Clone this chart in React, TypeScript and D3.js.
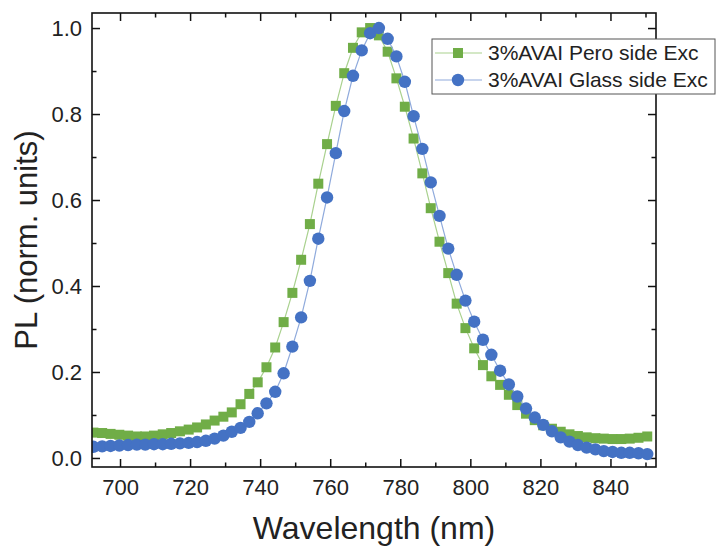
import React, { useEffect, useRef } from "react";
import * as d3 from "d3";

// wavelength grid (nm), shared by both spectra
const wavelengths = [
  692.4, 694.9, 697.3, 699.8, 702.3, 704.8, 707.2, 709.7, 712.2, 714.6,
  717.1, 719.6, 722.0, 724.5, 727.0, 729.5, 731.9, 734.4, 736.9, 739.3,
  741.8, 744.3, 746.7, 749.2, 751.7, 754.2, 756.6, 759.1, 761.6, 764.0,
  766.5, 769.0, 771.4, 773.9, 776.4, 778.9, 781.3, 783.8, 786.3, 788.7,
  791.2, 793.7, 796.1, 798.6, 801.1, 803.6, 806.0, 808.5, 811.0, 813.4,
  815.9, 818.4, 820.8, 823.3, 825.8, 828.3, 830.7, 833.2, 835.7, 838.1,
  840.6, 843.1, 845.5, 848.0, 850.5,
];

// 3%AVAI Pero side Exc
const peroSide = [
  0.059, 0.058, 0.056, 0.054, 0.052, 0.05, 0.05, 0.052, 0.055, 0.058,
  0.062, 0.066, 0.071, 0.078, 0.087, 0.096, 0.106, 0.125, 0.149, 0.176,
  0.211, 0.257, 0.316, 0.384, 0.461, 0.544, 0.638, 0.73, 0.819, 0.895,
  0.954, 0.99, 1.0, 0.983, 0.945, 0.883, 0.817, 0.743, 0.662, 0.581,
  0.503, 0.43, 0.359, 0.302, 0.255, 0.216, 0.19, 0.17, 0.147, 0.123,
  0.103, 0.088, 0.076, 0.068, 0.061, 0.055, 0.051, 0.048, 0.046, 0.045,
  0.044, 0.044, 0.045, 0.047, 0.05,
];

// 3%AVAI Glass side Exc
const glassSide = [
  0.026, 0.027, 0.028, 0.029, 0.03, 0.031, 0.031, 0.032, 0.032, 0.033,
  0.034, 0.035, 0.037, 0.04, 0.045, 0.052, 0.061, 0.07, 0.084, 0.104,
  0.127, 0.154, 0.197, 0.259, 0.327, 0.412, 0.51, 0.606, 0.709, 0.807,
  0.889, 0.948, 0.988, 1.0, 0.975, 0.934, 0.875, 0.795, 0.719, 0.641,
  0.563, 0.487, 0.426, 0.366, 0.317, 0.275, 0.24, 0.203, 0.171, 0.143,
  0.115, 0.094, 0.077, 0.062, 0.048, 0.038, 0.03, 0.024, 0.02, 0.016,
  0.014, 0.012, 0.012, 0.011, 0.009,
];

const seriesNames = ["3%AVAI Pero side Exc", "3%AVAI Glass side Exc"];
const xMajorTicks = [700, 720, 740, 760, 780, 800, 820, 840];
const xMinorTicks = [690, 710, 730, 750, 770, 790, 810, 830, 850];
const yMajorTicks = [0, 0.2, 0.4, 0.6, 0.8, 1.0];
const yMinorTicks = [0.1, 0.3, 0.5, 0.7, 0.9];

const FONT = "'Liberation Sans', Arial, sans-serif";

export default function App() {
  const ref = useRef<SVGSVGElement | null>(null);

  useEffect(() => {
    const margin = { top: 13, right: 64, bottom: 85, left: 92 };
    const W = 720, H = 552;
    const width = W - margin.left - margin.right;
    const height = H - margin.top - margin.bottom;

    const root = d3.select(ref.current);
    root.selectAll("*").remove();

    const svg = root.append("g")
      .attr("transform", `translate(${margin.left},${margin.top})`);

    const x = d3.scaleLinear().domain([692.0, 853.0]).range([0, width]);
    const y = d3.scaleLinear().domain([-0.021, 1.035]).range([height, 0]);

    svg.append("clipPath").attr("id", "plot-clip")
      .append("rect").attr("width", width).attr("height", height);

    const styleAxis = (g: any) => {
      g.select(".domain").remove();
      g.selectAll("line").attr("stroke", "#111").attr("stroke-width", 1.5);
      g.selectAll("text")
        .style("font-family", FONT)
        .style("font-size", "22px")
        .attr("fill", "#222");
    };

    // bottom axis (labels) + minor
    svg.append("g").attr("transform", `translate(0,${height})`)
      .call(d3.axisBottom(x).tickValues(xMajorTicks).tickFormat(d3.format("d"))
        .tickSizeInner(-8).tickSizeOuter(0).tickPadding(12))
      .call(styleAxis);
    svg.append("g").attr("transform", `translate(0,${height})`)
      .call(d3.axisBottom(x).tickValues(xMinorTicks.filter(v => v > 692 && v < 853))
        .tickFormat(() => "").tickSizeInner(-4.5).tickSizeOuter(0))
      .call(styleAxis);
    // top mirror
    svg.append("g")
      .call(d3.axisTop(x).tickValues(xMajorTicks).tickFormat(() => "")
        .tickSizeInner(-8).tickSizeOuter(0))
      .call(styleAxis);
    svg.append("g")
      .call(d3.axisTop(x).tickValues(xMinorTicks.filter(v => v > 692 && v < 853))
        .tickFormat(() => "").tickSizeInner(-4.5).tickSizeOuter(0))
      .call(styleAxis);

    // left axis (labels) + minor
    svg.append("g")
      .call(d3.axisLeft(y).tickValues(yMajorTicks).tickFormat(d3.format(".1f"))
        .tickSizeInner(-8).tickSizeOuter(0).tickPadding(10))
      .call(styleAxis);
    svg.append("g")
      .call(d3.axisLeft(y).tickValues(yMinorTicks).tickFormat(() => "")
        .tickSizeInner(-4.5).tickSizeOuter(0))
      .call(styleAxis);
    // right mirror
    svg.append("g").attr("transform", `translate(${width},0)`)
      .call(d3.axisRight(y).tickValues(yMajorTicks).tickFormat(() => "")
        .tickSizeInner(-8).tickSizeOuter(0))
      .call(styleAxis);
    svg.append("g").attr("transform", `translate(${width},0)`)
      .call(d3.axisRight(y).tickValues(yMinorTicks).tickFormat(() => "")
        .tickSizeInner(-4.5).tickSizeOuter(0))
      .call(styleAxis);

    const plot = svg.append("g").attr("clip-path", "url(#plot-clip)");

    const line = d3.line<number>()
      .x((_, i) => x(wavelengths[i]))
      .y(d => y(d));

    // Pero side: green squares
    plot.append("path").datum(peroSide)
      .attr("d", line)
      .attr("fill", "none")
      .attr("stroke", "#a9d18e")
      .attr("stroke-width", 1.2);
    plot.append("g").selectAll("rect")
      .data(peroSide)
      .enter().append("rect")
      .attr("x", (_, i) => x(wavelengths[i]) - 5)
      .attr("y", d => y(d) - 5)
      .attr("width", 10)
      .attr("height", 10)
      .attr("fill", "#70ad47");

    // Glass side: blue circles
    plot.append("path").datum(glassSide)
      .attr("d", line)
      .attr("fill", "none")
      .attr("stroke", "#8faadc")
      .attr("stroke-width", 1.2);
    plot.append("g").selectAll("circle")
      .data(glassSide)
      .enter().append("circle")
      .attr("cx", (_, i) => x(wavelengths[i]))
      .attr("cy", d => y(d))
      .attr("r", 6.2)
      .attr("fill", "#4472c4");

    // frame
    svg.append("rect")
      .attr("width", width).attr("height", height)
      .attr("fill", "none").attr("stroke", "#111").attr("stroke-width", 1.6);

    // axis titles
    svg.append("text")
      .attr("x", width / 2).attr("y", height + 72)
      .attr("text-anchor", "middle")
      .style("font-family", FONT).style("font-size", "32px")
      .attr("fill", "#222")
      .text("Wavelength (nm)");

    svg.append("text")
      .attr("transform", `translate(${37 - margin.left},${height / 2}) rotate(-90)`)
      .attr("text-anchor", "middle")
      .style("font-family", FONT).style("font-size", "31px")
      .attr("fill", "#222")
      .text("PL (norm. units)");

    // legend
    const lg = root.append("g");
    lg.append("rect")
      .attr("x", 432).attr("y", 39).attr("width", 283).attr("height", 55)
      .attr("fill", "#fff").attr("stroke", "#555").attr("stroke-width", 1);
    const rows = [
      { name: seriesNames[0], line: "#a9d18e", fill: "#70ad47", shape: "square", cy: 53 },
      { name: seriesNames[1], line: "#8faadc", fill: "#4472c4", shape: "circle", cy: 80 },
    ];
    rows.forEach(r => {
      lg.append("line")
        .attr("x1", 435).attr("x2", 482).attr("y1", r.cy).attr("y2", r.cy)
        .attr("stroke", r.line).attr("stroke-width", 1.2);
      if (r.shape === "square") {
        lg.append("rect").attr("x", 458 - 5).attr("y", r.cy - 5)
          .attr("width", 10).attr("height", 10).attr("fill", r.fill);
      } else {
        lg.append("circle").attr("cx", 458).attr("cy", r.cy).attr("r", 6.2)
          .attr("fill", r.fill);
      }
      lg.append("text")
        .attr("x", 488).attr("y", r.cy + 7)
        .style("font-family", FONT).style("font-size", "21px")
        .attr("fill", "#222")
        .text(r.name);
    });
  }, []);

  return (
    <svg
      ref={ref}
      width={720}
      height={552}
      style={{ position: "absolute", left: 0, top: 0, background: "#fff" }}
    />
  );
}
